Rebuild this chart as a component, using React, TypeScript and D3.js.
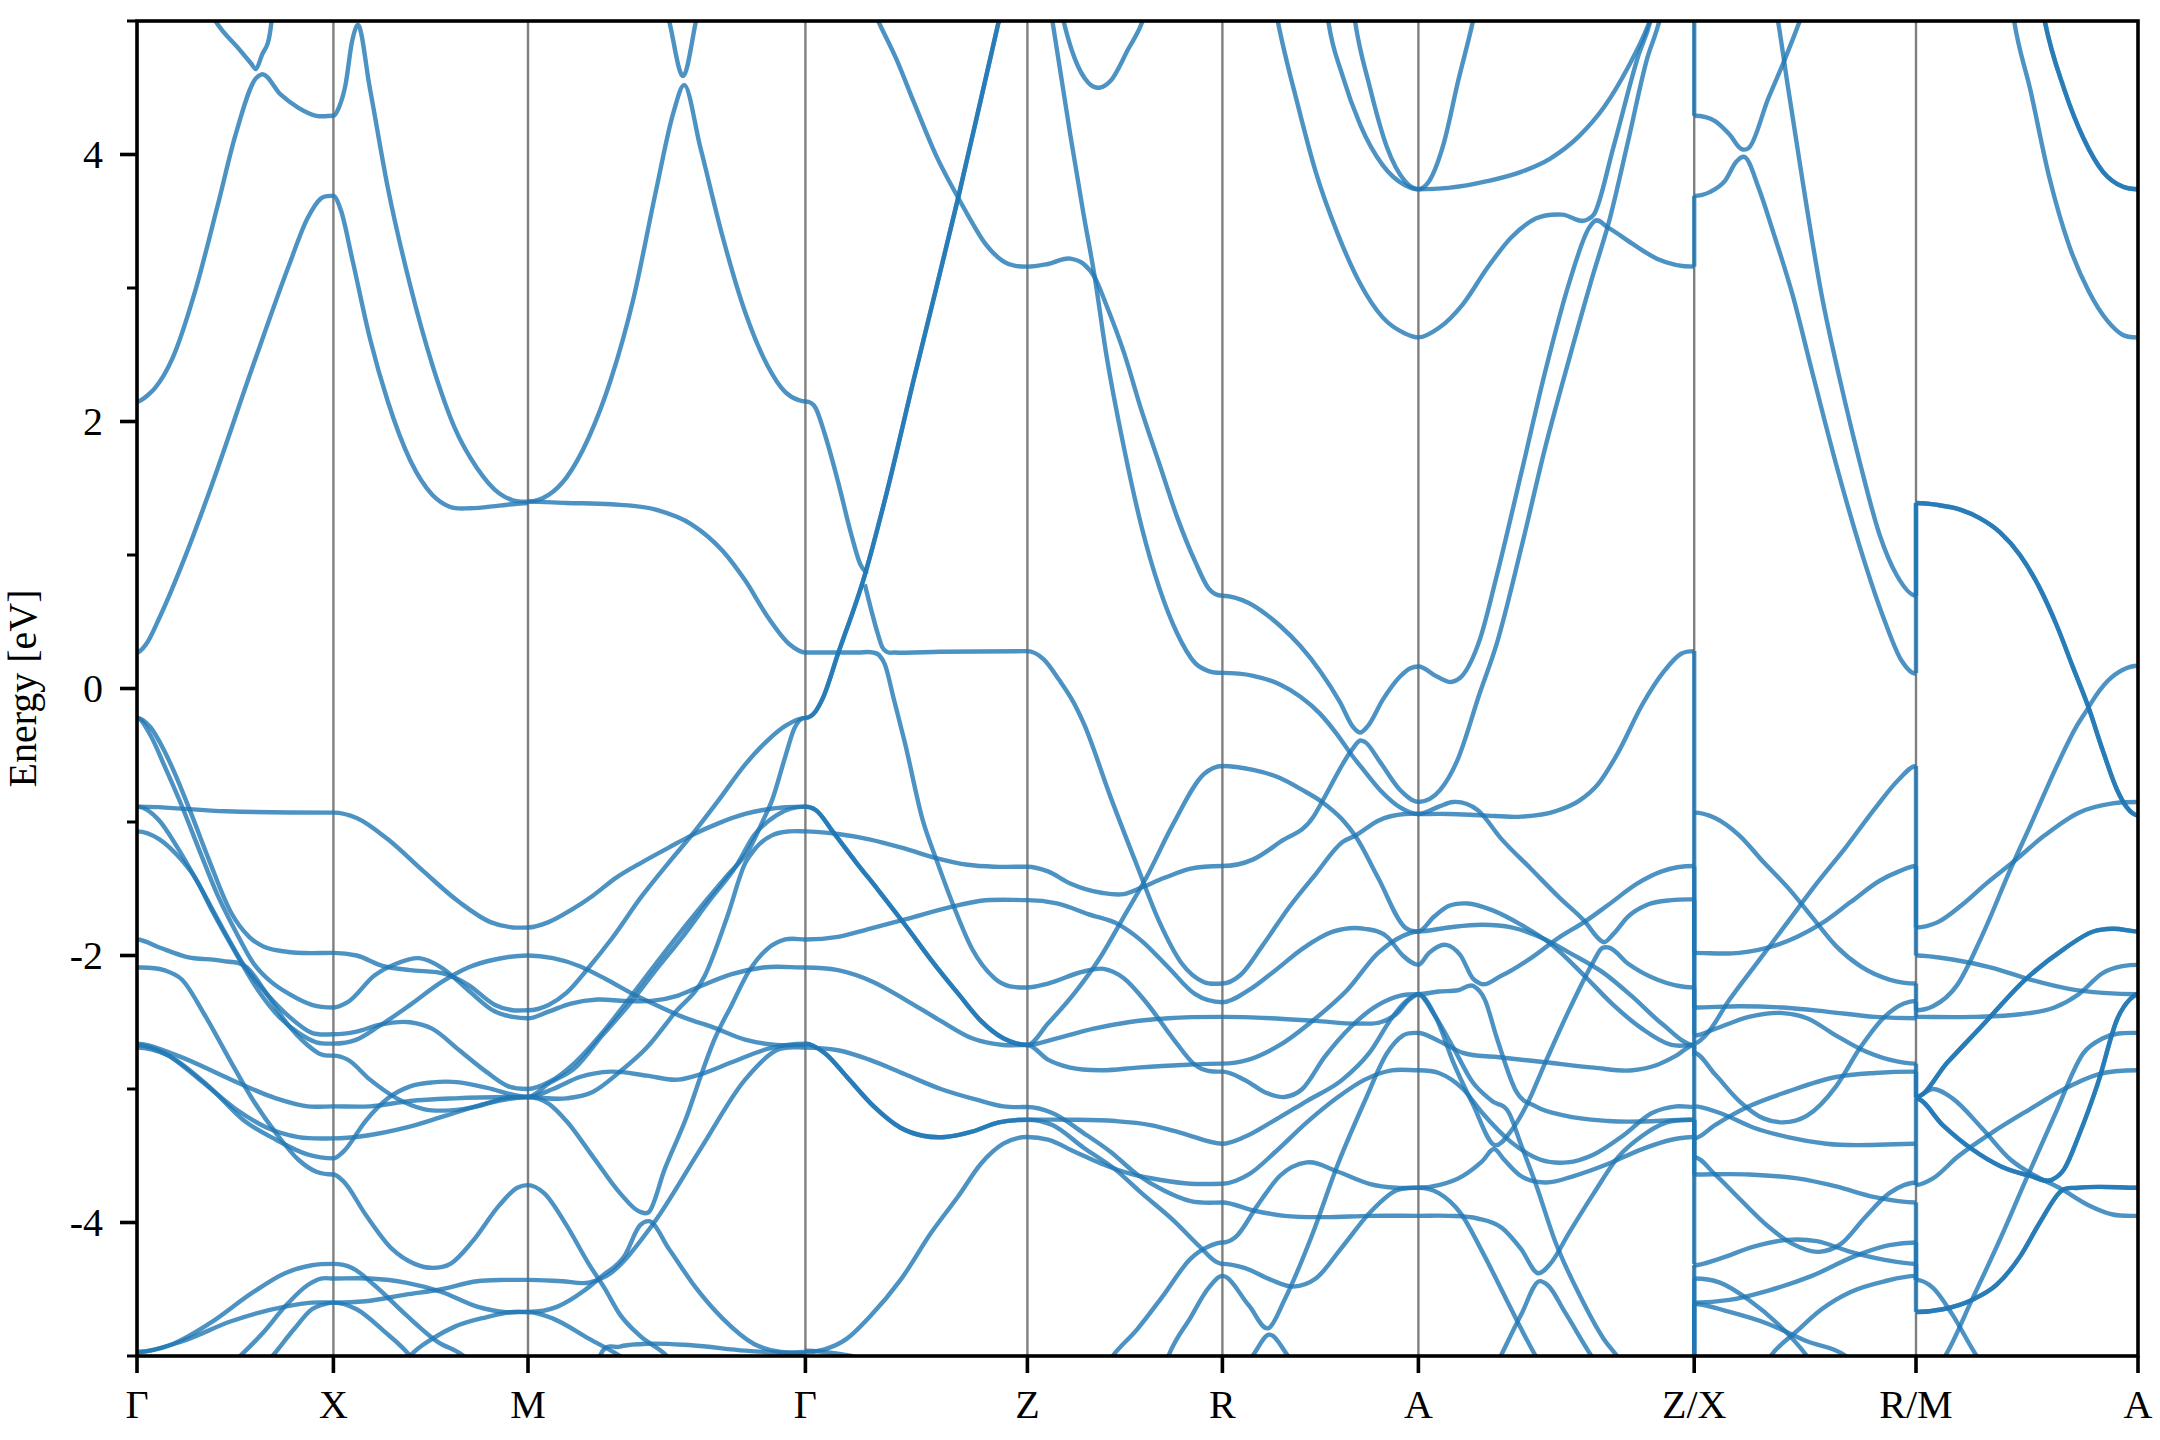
import React from "react";
import * as d3 from "d3";

const kLabels = ["Γ", "X", "M", "Γ", "Z", "R", "A", "Z/X", "R/M", "A"];
const kTicks = [0, 0.982, 1.955, 3.342, 4.452, 5.427, 6.407, 7.786, 8.895, 10.005];
const segmentSpan = [438, 436, 621, 497, 437, 439, 569, 458, 457];
const majorE = [-4, -2, 0, 2, 4];
const minorE = [-5, -3, -1, 1, 3, 5];

// every band is a flat list: position along the segment, energy (eV), ...
const gammaX: number[][] = [
  [0,.27, 20,.33, 50,.53, 110,1.01, 160,1.46, 260,2.43, 340,3.18, 380,3.52, 410,3.67, 438,3.69],
  [0,2.15, 25,2.2, 40,2.25, 80,2.48, 130,2.98, 180,3.62, 220,4.15, 265,4.57, 278,4.6, 320,4.45, 360,4.35, 400,4.29, 438,4.29],
  [150,5.15, 175,5, 230,4.78, 255,4.68, 265,4.64, 278,4.74, 300,5, 310,5.4],
  [0,-.885, 200,-.92, 438,-.93],
  [0,-.22, 30,-.29, 60,-.46, 90,-.68, 120,-.93, 160,-1.28, 210,-1.68, 250,-1.86, 280,-1.93, 330,-1.97, 438,-1.98],
  [0,-.22, 30,-.35, 60,-.57, 100,-.88, 140,-1.22, 180,-1.55, 220,-1.82, 260,-2.06, 300,-2.2, 340,-2.29, 390,-2.37, 438,-2.39],
  [0,-.885, 50,-.99, 90,-1.19, 140,-1.48, 190,-1.79, 240,-2.08, 290,-2.29, 340,-2.46, 390,-2.58, 438,-2.59],
  [0,-1.07, 50,-1.13, 90,-1.25, 130,-1.42, 170,-1.68, 220,-1.98, 270,-2.26, 320,-2.47, 360,-2.58, 400,-2.65, 438,-2.66],
  [0,-1.88, 50,-1.94, 110,-2.01, 190,-2.04, 245,-2.09, 290,-2.29, 330,-2.49, 380,-2.67, 410,-2.74, 438,-2.75],
  [0,-2.09, 60,-2.11, 100,-2.18, 150,-2.44, 210,-2.8, 260,-3.09, 310,-3.33, 360,-3.53, 400,-3.62, 438,-3.64],
  [0,-2.66, 90,-2.75, 210,-2.93, 310,-3.07, 380,-3.13, 438,-3.13],
  [0,-2.67, 60,-2.73, 140,-2.93, 220,-3.15, 290,-3.29, 360,-3.36, 438,-3.37],
  [0,-2.69, 70,-2.75, 160,-2.98, 240,-3.24, 310,-3.38, 380,-3.49, 438,-3.52],
  [0,-4.97, 80,-4.91, 160,-4.76, 260,-4.52, 330,-4.38, 390,-4.32, 438,-4.31],
  [0,-4.97, 100,-4.89, 210,-4.74, 330,-4.63, 390,-4.6, 438,-4.6],
  [180,-5.16, 230,-5, 280,-4.83, 330,-4.63, 380,-4.47, 410,-4.42, 438,-4.42],
  [260,-5.16, 302,-5, 350,-4.8, 390,-4.65, 420,-4.61, 438,-4.6],
];

const xM: number[][] = [
  [0,4.29, 12,4.35, 27,4.52, 42,4.85, 54,4.97, 82,4.49, 122,3.75, 172,3.02, 222,2.42, 272,1.95, 322,1.65, 372,1.46, 402,1.41, 436,1.4],
  [0,3.69, 17,3.58, 42,3.22, 82,2.62, 122,2.15, 172,1.71, 222,1.45, 262,1.36, 307,1.35, 372,1.37, 436,1.39],
  [0,-.93, 52,-.97, 122,-1.13, 202,-1.37, 282,-1.6, 352,-1.75, 402,-1.79, 436,-1.79],
  [0,-2.39, 32,-2.35, 92,-2.15, 142,-2.06, 192,-2.02, 242,-2.09, 302,-2.26, 362,-2.42, 402,-2.46, 436,-2.47],
  [0,-1.98, 52,-2, 112,-2.08, 172,-2.11, 252,-2.14, 302,-2.22, 362,-2.37, 402,-2.41, 436,-2.41],
  [0,-2.59, 52,-2.57, 102,-2.52, 172,-2.5, 222,-2.55, 282,-2.71, 342,-2.87, 392,-2.98, 436,-3],
  [0,-2.66, 52,-2.63, 102,-2.53, 172,-2.37, 242,-2.2, 302,-2.09, 362,-2.03, 436,-2],
  [0,-2.75, 32,-2.78, 82,-2.93, 142,-3.07, 202,-3.15, 262,-3.16, 322,-3.13, 382,-3.07, 436,-3.06],
  [0,-3.13, 82,-3.13, 172,-3.09, 272,-3.07, 436,-3.06],
  [0,-3.37, 72,-3.35, 162,-3.29, 252,-3.2, 342,-3.11, 436,-3.06],
  [0,-3.52, 22,-3.47, 72,-3.24, 122,-3.07, 172,-2.98, 222,-2.95, 282,-2.95, 342,-2.99, 436,-3.06],
  [0,-3.64, 22,-3.69, 72,-3.94, 132,-4.2, 182,-4.31, 222,-4.34, 262,-4.31, 312,-4.14, 372,-3.87, 412,-3.74, 436,-3.72],
  [0,-4.31, 42,-4.34, 92,-4.47, 162,-4.69, 232,-4.89, 292,-5, 322,-5.09],
  [0,-4.42, 82,-4.42, 162,-4.45, 242,-4.52, 322,-4.63, 382,-4.67, 436,-4.67],
  [0,-4.6, 72,-4.59, 162,-4.54, 242,-4.5, 322,-4.44, 382,-4.43, 436,-4.43],
  [0,-4.6, 52,-4.65, 112,-4.81, 172,-5, 192,-5.09],
  [150,-5.1, 172,-5, 222,-4.87, 272,-4.78, 342,-4.71, 402,-4.67, 436,-4.67],
];

const mGamma: number[][] = [
  [0,1.4, 86,1.39, 186,1.38, 286,1.34, 366,1.23, 436,1.03, 486,.81, 536,.54, 586,.33, 621,.27],
  [0,1.4, 46,1.45, 86,1.58, 136,1.88, 186,2.32, 236,2.92, 286,3.72, 326,4.32, 349,4.52, 386,4.05, 436,3.38, 486,2.82, 536,2.42, 576,2.22, 606,2.16, 621,2.15],
  [301,5.2, 316,5, 348,4.59, 376,5, 391,5.25],
  [0,-1.79, 46,-1.75, 96,-1.66, 146,-1.55, 196,-1.42, 256,-1.3, 316,-1.19, 366,-1.1, 426,-1.01, 486,-.94, 526,-.91, 576,-.89, 621,-.885],
  [0,-2, 56,-2.02, 116,-2.08, 176,-2.18, 236,-2.29, 286,-2.37, 346,-2.46, 416,-2.54, 486,-2.63, 556,-2.67, 621,-2.67],
  [0,-2.41, 46,-2.37, 86,-2.28, 136,-2.09, 186,-1.88, 256,-1.55, 316,-1.3, 366,-1.1, 426,-.84, 486,-.57, 536,-.39, 576,-.28, 621,-.22],
  [0,-2.47, 46,-2.42, 96,-2.36, 156,-2.33, 216,-2.34, 276,-2.34, 336,-2.3, 386,-2.23, 456,-2.14, 526,-2.09, 621,-2.09],
  [0,-3, 46,-2.95, 106,-2.8, 166,-2.58, 216,-2.37, 266,-2.15, 326,-1.89, 386,-1.64, 446,-1.4, 496,-1.2, 526,-.99, 546,-.84, 576,-.51, 596,-.3, 621,-.22],
  [0,-3.06, 86,-3.07, 146,-3.02, 206,-2.87, 266,-2.69, 326,-2.44, 396,-2.15, 446,-1.71, 486,-1.31, 511,-1.19, 546,-1.1, 586,-1.07, 621,-1.07],
  [0,-3.06, 56,-3, 116,-2.91, 186,-2.87, 266,-2.9, 336,-2.93, 386,-2.89, 456,-2.8, 536,-2.7, 621,-2.66],
  [0,-3.06, 46,-2.96, 106,-2.84, 166,-2.6, 226,-2.37, 286,-2.11, 346,-1.86, 406,-1.59, 466,-1.33, 506,-1.1, 556,-.95, 621,-.885],
  [0,-3.06, 46,-3.11, 86,-3.24, 146,-3.51, 206,-3.78, 251,-3.92, 271,-3.92, 306,-3.6, 356,-3.2, 386,-2.91, 416,-2.64, 456,-2.37, 496,-2.11, 536,-1.95, 576,-1.88, 621,-1.88],
  [0,-3.72, 36,-3.78, 86,-4.02, 136,-4.31, 171,-4.49, 206,-4.69, 251,-4.85, 311,-5, 336,-5.1],
  [0,-4.43, 76,-4.44, 136,-4.45, 176,-4.4, 276,-4.03, 386,-3.45, 486,-2.93, 556,-2.71, 621,-2.69],
  [0,-4.67, 66,-4.63, 126,-4.51, 166,-4.4, 216,-4.25, 251,-4.02, 271,-3.99, 316,-4.2, 376,-4.49, 436,-4.72, 506,-4.91, 566,-4.97, 621,-4.97],
  [0,-4.67, 56,-4.72, 136,-4.87, 206,-5, 236,-5.07],
  [150,-5.1, 161,-5, 206,-4.93, 256,-4.91, 366,-4.92, 486,-4.96, 621,-4.98],
];

const gzRise = [0,-.22, 23,-.17, 38,-.08, 73,.26, 133,.85, 183,1.48, 243,2.32, 293,3, 343,3.69, 383,4.27, 433,5, 453,5.3];
const gzFall = [0,-.885, 23,-.91, 63,-1.08, 113,-1.3, 163,-1.51, 223,-1.77, 283,-2.04, 343,-2.29, 393,-2.49, 443,-2.62, 497,-2.67];
const gzDip = [0,-2.66, 43,-2.73, 93,-2.91, 153,-3.13, 213,-3.29, 263,-3.35, 313,-3.36, 373,-3.32, 433,-3.25, 497,-3.23];
const gammaZ: number[][] = [
  gzRise, gzRise, gzFall, gzFall, gzDip, gzDip,
  [0,2.15, 23,2.1, 43,1.91, 73,1.55, 103,1.15, 123,.93, 138,.86],
  [133,.78, 148,.58, 163,.4, 172,.31, 182,.275, 200,.27, 300,.275, 497,.28],
  [0,.27, 60,.27, 120,.27, 150,.27, 165,.25, 178,.18, 198,-.08, 223,-.41, 263,-.99, 293,-1.28, 333,-1.64, 373,-1.95, 423,-2.17, 497,-2.24],
  [0,-1.07, 73,-1.09, 143,-1.13, 223,-1.2, 293,-1.27, 363,-1.32, 423,-1.335, 497,-1.335],
  [0,-1.88, 73,-1.86, 143,-1.8, 223,-1.73, 333,-1.63, 393,-1.59, 497,-1.585],
  [0,-2.09, 73,-2.11, 153,-2.2, 223,-2.33, 303,-2.49, 373,-2.62, 443,-2.67, 497,-2.67],
  [0,-2.69, 73,-2.71, 143,-2.78, 223,-2.89, 303,-3, 383,-3.08, 443,-3.13, 497,-3.135],
  [0,-4.97, 43,-4.95, 93,-4.87, 143,-4.71, 213,-4.43, 283,-4.07, 343,-3.8, 393,-3.56, 443,-3.41, 497,-3.36],
  [0,-4.96, 43,-4.97, 103,-5, 143,-5.03],
  [143,5.15, 163,5, 203,4.72, 243,4.39, 293,3.99, 343,3.67, 363,3.55, 403,3.33, 443,3.2, 497,3.16],
];

const zR: number[][] = [
  [0,3.16, 46,3.18, 96,3.22, 126,3.18, 151,3.08, 176,2.88, 216,2.52, 256,2.08, 296,1.68, 336,1.28, 376,.95, 406,.75, 437,.695],
  [46,5.2, 56,5, 96,4.15, 126,3.55, 151,3.08, 176,2.52, 216,1.81, 256,1.21, 296,.75, 336,.41, 376,.19, 406,.13, 437,.117],
  [68,5.2, 81,5, 106,4.72, 136,4.54, 161,4.5, 186,4.55, 226,4.79, 258,5, 276,5.2],
  [0,.28, 36,.22, 71,.065, 106,-.12, 126,-.26, 186,-.81, 246,-1.33, 296,-1.75, 346,-2.06, 396,-2.2, 437,-2.21],
  [0,-1.335, 46,-1.37, 96,-1.46, 166,-1.53, 216,-1.54, 256,-1.49, 306,-1.42, 366,-1.35, 437,-1.33],
  [0,-1.585, 66,-1.61, 136,-1.69, 206,-1.77, 256,-1.89, 316,-2.09, 376,-2.29, 437,-2.35],
  [0,-2.24, 46,-2.21, 126,-2.12, 171,-2.1, 216,-2.17, 266,-2.35, 326,-2.62, 376,-2.82, 437,-2.87],
  [0,-2.67, 46,-2.51, 106,-2.28, 166,-2, 216,-1.71, 266,-1.42, 326,-1.02, 396,-.64, 437,-.58],
  [0,-2.67, 66,-2.62, 146,-2.55, 226,-2.5, 316,-2.47, 437,-2.46],
  [0,-2.67, 46,-2.78, 96,-2.84, 166,-2.86, 246,-2.84, 346,-2.82, 437,-2.81],
  [0,-3.135, 56,-3.18, 126,-3.33, 186,-3.47, 246,-3.64, 306,-3.76, 366,-3.84, 437,-3.85],
  [0,-3.23, 96,-3.23, 196,-3.24, 276,-3.27, 346,-3.33, 437,-3.41],
  [0,-3.23, 56,-3.27, 126,-3.44, 196,-3.6, 256,-3.78, 326,-3.98, 386,-4.18, 421,-4.29, 437,-4.31],
  [0,-3.36, 46,-3.38, 106,-3.47, 166,-3.56, 236,-3.64, 296,-3.68, 366,-3.71, 437,-3.71],
  [170,-5.1, 191,-5, 246,-4.8, 306,-4.54, 366,-4.27, 406,-4.18, 437,-4.15],
  [300,-5.15, 316,-5, 366,-4.71, 406,-4.49, 437,-4.4],
];

const rA: number[][] = [
  [110,5.25, 124,5, 169,4.37, 209,3.87, 259,3.4, 309,3.03, 359,2.78, 409,2.66, 439,2.63],
  [225,5.3, 237,5, 269,4.59, 309,4.22, 359,3.92, 409,3.77, 439,3.74],
  [285,5.3, 297,5, 329,4.52, 369,4.05, 409,3.8, 439,3.74],
  [0,.695, 59,.64, 100,.55, 129,.47, 174,.32, 219,.13, 263,-.1, 293,-.29, 308,-.33, 326,-.28, 360,-.08, 398,.09, 420,.15, 439,.165],
  [0,.117, 69,.095, 129,.03, 174,-.06, 219,-.19, 256,-.34, 290,-.5, 316,-.61, 353,-.76, 398,-.89, 439,-.94],
  [0,-.58, 69,-.61, 129,-.67, 179,-.76, 223,-.85, 268,-.98, 299,-1.11, 349,-1.42, 409,-1.79, 439,-1.82],
  [0,-1.33, 69,-1.28, 129,-1.15, 204,-.96, 223,-.85, 290,-.46, 308,-.39, 319,-.4, 353,-.55, 398,-.76, 439,-.85],
  [0,-2.35, 59,-2.26, 119,-2.11, 179,-1.95, 249,-1.82, 319,-1.8, 369,-1.86, 404,-2, 439,-2.07],
  [0,-2.21, 39,-2.15, 89,-1.93, 149,-1.64, 209,-1.39, 269,-1.15, 299,-1.1, 349,-.99, 409,-.94, 439,-.94],
  [0,-2.46, 109,-2.47, 209,-2.49, 309,-2.51, 354,-2.5, 389,-2.44, 419,-2.33, 439,-2.29],
  [0,-2.81, 59,-2.78, 129,-2.67, 209,-2.47, 279,-2.26, 349,-1.98, 389,-1.88, 439,-1.82],
  [0,-2.87, 49,-2.93, 99,-3.03, 139,-3.06, 179,-3, 229,-2.76, 289,-2.53, 349,-2.37, 399,-2.3, 439,-2.29],
  [0,-3.41, 49,-3.36, 109,-3.25, 189,-3.09, 269,-2.93, 329,-2.73, 379,-2.47, 409,-2.35, 439,-2.29],
  [0,-3.71, 59,-3.64, 119,-3.47, 189,-3.25, 259,-3.06, 319,-2.93, 379,-2.86, 439,-2.86],
  [0,-3.85, 69,-3.91, 139,-3.95, 229,-3.96, 329,-3.95, 439,-3.95],
  [0,-4.15, 29,-4.11, 79,-3.87, 129,-3.65, 189,-3.55, 259,-3.62, 329,-3.71, 389,-3.74, 439,-3.74],
  [0,-4.31, 49,-4.34, 109,-4.43, 159,-4.48, 209,-4.42, 269,-4.18, 329,-3.93, 389,-3.76, 439,-3.74],
  [0,-4.4, 59,-4.62, 104,-4.79, 139,-4.58, 199,-4.11, 259,-3.56, 319,-3.09, 369,-2.73, 404,-2.6, 439,-2.58],
  [39,-5.1, 67,-5, 104,-4.84, 147,-5, 169,-5.1],
];

const aZ: number[][] = [
  [0,3.74, 22,3.8, 52,4.08, 82,4.55, 112,4.99, 127,5.25],
  [0,3.74, 62,3.75, 142,3.8, 212,3.87, 272,3.97, 332,4.14, 382,4.35, 432,4.65, 472,4.95, 492,5.15],
  [0,2.63, 42,2.7, 92,2.88, 142,3.15, 192,3.38, 242,3.52, 297,3.55, 347,3.51, 362,3.55, 402,4.05, 452,4.72, 482,5.05, 495,5.3],
  [0,.165, 38,.09, 69,.05, 89,.09, 127,.37, 162,.85, 212,1.61, 262,2.38, 312,3.05, 352,3.45, 363,3.5, 392,3.45, 442,3.33, 492,3.22, 569,3.16],
  [0,-.85, 45,-.76, 79,-.55, 127,-.03, 162,.34, 212,1.05, 262,1.81, 312,2.48, 362,3.12, 392,3.48, 432,4.09, 472,4.72, 497,5, 512,5.25],
  [0,-.94, 62,-.94, 132,-.95, 212,-.96, 282,-.92, 332,-.84, 372,-.71, 412,-.48, 462,-.12, 507,.13, 542,.26, 569,.28],
  [0,-.94, 42,-.885, 71,-.85, 122,-.91, 172,-1.13, 232,-1.35, 292,-1.57, 342,-1.74, 377,-1.89, 382,-1.9, 402,-1.84, 432,-1.71, 472,-1.62, 522,-1.585, 569,-1.58],
  [0,-1.82, 32,-1.71, 62,-1.63, 102,-1.61, 152,-1.66, 212,-1.77, 272,-1.91, 342,-2.15, 402,-2.37, 462,-2.55, 522,-2.67, 569,-2.67],
  [0,-1.82, 62,-1.79, 132,-1.77, 192,-1.79, 262,-1.88, 312,-1.98, 382,-2.13, 442,-2.31, 502,-2.51, 569,-2.67],
  [0,-2.07, 22,-1.98, 57,-1.92, 87,-2, 112,-2.17, 127,-2.21, 172,-2.15, 232,-2.02, 292,-1.86, 342,-1.75, 392,-1.62, 452,-1.46, 502,-1.37, 569,-1.33],
  [0,-2.29, 42,-2.27, 82,-2.26, 114,-2.23, 137,-2.33, 162,-2.62, 202,-3.02, 242,-3.13, 302,-3.2, 392,-3.24, 569,-3.23],
  [0,-2.29, 37,-2.47, 72,-2.8, 112,-3.11, 157,-3.42, 192,-3.31, 222,-3.13, 262,-2.8, 312,-2.4, 362,-2.04, 377,-1.95, 392,-1.94, 432,-2.06, 492,-2.18, 569,-2.24],
  [0,-2.29, 32,-2.44, 72,-2.69, 112,-2.95, 152,-3.09, 187,-3.18, 212,-3.42, 242,-3.71, 282,-4.14, 332,-4.54, 382,-4.87, 410,-5, 430,-5.1],
  [0,-2.58, 42,-2.64, 92,-2.73, 162,-2.76, 262,-2.8, 362,-2.84, 442,-2.86, 492,-2.82, 532,-2.75, 569,-2.67],
  [0,-2.86, 42,-2.88, 92,-3, 132,-3.18, 192,-3.4, 252,-3.53, 307,-3.55, 362,-3.49, 422,-3.35, 482,-3.18, 532,-3.13, 569,-3.135],
  [0,-3.74, 42,-3.72, 92,-3.65, 132,-3.54, 157,-3.45, 177,-3.53, 207,-3.64, 262,-3.7, 322,-3.65, 392,-3.56, 462,-3.45, 522,-3.38, 569,-3.36],
  [0,-3.74, 42,-3.78, 87,-3.93, 132,-4.22, 182,-4.58, 242,-5, 262,-5.12],
  [0,-3.95, 62,-3.95, 122,-3.97, 172,-4.04, 212,-4.2, 247,-4.38, 272,-4.31, 312,-4.07, 362,-3.78, 412,-3.51, 462,-3.35, 512,-3.25, 569,-3.23],
  [150,-5.15, 170,-5, 212,-4.69, 249,-4.44, 267,-4.47, 302,-4.67, 357,-5, 375,-5.1],
];

const xR: number[][] = [
  [0,4.29, 43,4.25, 73,4.15, 98,4.04, 113,4.05, 153,4.42, 188,4.72, 218,5, 243,5.25],
  [0,3.69, 33,3.72, 63,3.8, 88,3.95, 105,3.98, 133,3.75, 163,3.42, 203,2.95, 243,2.38, 293,1.68, 343,1.05, 393,.51, 428,.21, 458,.11],
  [163,5.2, 173,5, 193,4.52, 223,3.82, 263,2.95, 303,2.28, 343,1.68, 383,1.15, 418,.85, 458,.695],
  [0,-.93, 43,-.97, 93,-1.1, 143,-1.3, 193,-1.49, 243,-1.71, 293,-1.93, 343,-2.08, 403,-2.18, 458,-2.21],
  [0,-1.98, 93,-1.98, 163,-1.93, 213,-1.86, 263,-1.76, 323,-1.6, 383,-1.44, 423,-1.37, 458,-1.33],
  [0,-2.66, 23,-2.6, 73,-2.33, 133,-2.04, 193,-1.75, 253,-1.46, 313,-1.19, 373,-.9, 423,-.68, 458,-.58],
  [0,-2.39, 93,-2.38, 183,-2.39, 273,-2.42, 373,-2.46, 458,-2.47],
  [0,-2.6, 43,-2.55, 113,-2.46, 178,-2.43, 233,-2.47, 293,-2.6, 343,-2.7, 403,-2.78, 458,-2.81],
  [0,-2.73, 43,-2.89, 93,-3.09, 143,-3.22, 183,-3.25, 233,-3.2, 293,-2.98, 343,-2.69, 393,-2.46, 433,-2.36, 458,-2.34],
  [0,-3.13, 53,-3.18, 123,-3.29, 193,-3.36, 273,-3.41, 458,-3.41],
  [0,-3.37, 43,-3.27, 113,-3.13, 193,-3.02, 293,-2.91, 373,-2.88, 458,-2.87],
  [0,-3.51, 43,-3.64, 93,-3.82, 153,-4.03, 203,-4.16, 258,-4.22, 303,-4.16, 353,-3.96, 403,-3.78, 433,-3.72, 458,-3.7],
  [0,-3.64, 113,-3.64, 213,-3.67, 293,-3.73, 373,-3.81, 458,-3.85],
  [0,-4.32, 53,-4.27, 123,-4.18, 193,-4.13, 253,-4.14, 323,-4.22, 393,-4.28, 458,-4.31],
  [0,-4.42, 53,-4.45, 113,-4.58, 173,-4.76, 233,-5, 253,-5.1],
  [0,-4.6, 73,-4.58, 153,-4.51, 243,-4.4, 333,-4.25, 403,-4.17, 458,-4.15],
  [0,-4.61, 73,-4.67, 153,-4.76, 233,-4.89, 313,-5, 343,-5.1],
  [140,-5.1, 158,-5, 213,-4.81, 263,-4.65, 323,-4.52, 393,-4.44, 458,-4.4],
];

const maFall = [0,1.39, 45,1.375, 91,1.34, 132,1.275, 173,1.17, 214,1, 255,.75, 290,.47, 323,.16, 354,-.13, 385,-.47, 414,-.76, 434,-.89, 457,-.95];
const maTop = [250,5.3, 265,5, 305,4.49, 345,4.12, 385,3.87, 425,3.76, 457,3.74];
const maRise = [0,-3.06, 65,-2.8, 135,-2.53, 225,-2.18, 305,-1.95, 365,-1.82, 405,-1.8, 457,-1.82];
const maDip = [0,-3.07, 55,-3.27, 115,-3.45, 175,-3.58, 235,-3.65, 280,-3.68, 305,-3.6, 335,-3.35, 375,-2.95, 415,-2.47, 440,-2.33, 457,-2.29];
const maBottom = [0,-4.67, 55,-4.65, 115,-4.58, 165,-4.47, 215,-4.25, 255,-4, 300,-3.76, 335,-3.74, 457,-3.74];
const mA: number[][] = [
  maFall, maFall, maTop, maTop, maRise, maRise, maDip, maDip, maBottom, maBottom,
  [190,5.3, 202,5, 235,4.49, 275,3.82, 315,3.32, 355,2.98, 395,2.75, 425,2.65, 457,2.63],
  [0,-1.79, 45,-1.75, 95,-1.62, 145,-1.46, 200,-1.3, 265,-1.1, 335,-.93, 405,-.86, 457,-.85],
  [0,-2, 75,-2.03, 155,-2.09, 235,-2.18, 315,-2.25, 385,-2.28, 457,-2.29],
  [0,-2.41, 35,-2.38, 85,-2.22, 135,-1.86, 195,-1.35, 241,-.98, 290,-.58, 331,-.28, 352,-.16, 362,-.1, 393,.05, 426,.14, 457,.17],
  [0,-2.46, 115,-2.46, 215,-2.44, 285,-2.39, 335,-2.29, 385,-2.13, 425,-2.08, 457,-2.07],
  [0,-3.06, 35,-3, 75,-3.07, 135,-3.29, 195,-3.53, 245,-3.65, 295,-3.74, 355,-3.87, 405,-3.94, 457,-3.95],
  [0,-3.72, 35,-3.67, 85,-3.51, 155,-3.33, 235,-3.15, 305,-3, 375,-2.89, 457,-2.86],
  [0,-4.43, 35,-4.49, 75,-4.69, 125,-5, 145,-5.1],
  [40,-5.1, 60,-5, 115,-4.58, 175,-4.11, 225,-3.69, 285,-3.2, 345,-2.73, 385,-2.62, 457,-2.58],
];

const segments = [gammaX, xM, mGamma, gammaZ, zR, rA, aZ, xR, mA];

// energies joined by a band across the two discontinuous labels
const zxJumps = [[5.3,4.29],[3.16,3.69],[.28,-1.98],[-1.335,-2.39],[-1.585,-2.59],[-2.24,-2.66],[-2.67,-2.75],[-2.67,-3.13],[-3.135,-3.37],[-3.23,-3.52],[-3.23,-3.64],[-3.36,-4.31],[-5.3,-4.32],[-5.3,-4.42],[-5.3,-4.6]];
const rmJumps = [[.695,1.39],[.117,1.39],[-.58,-1.79],[-1.33,-2],[-2.21,-2.41],[-2.35,-2.46],[-2.81,-3.06],[-2.87,-3.07],[-3.41,-3.07],[-3.41,-3.72],[-3.71,-3.72],[-3.85,-4.43],[-4.15,-4.43],[-4.31,-4.43],[-4.4,-4.67]];

const W = 2160, H = 1440;
const L = 137, R = 2138, T = 21, B = 1356;
const FONT = "'Liberation Serif', 'Times New Roman', serif";
const BLUE = "#1f77b4";

function pairs(flat: number[]): [number, number][] {
  const out: [number, number][] = [];
  for (let i = 0; i + 1 < flat.length; i += 2) out.push([flat[i], flat[i + 1]]);
  return out;
}

// Cubic Hermite curve factory for d3.line: ends at a high-symmetry point leave flat,
// inner tangents come from the parabola through three neighbouring points.
function bandCurve(flatStart: boolean, flatEnd: boolean) {
  return (context: any) => {
    let xs: number[] = [], ys: number[] = [];
    return {
      areaStart() {}, areaEnd() {},
      lineStart() { xs = []; ys = []; },
      point(x: number, y: number) { xs.push(+x); ys.push(+y); },
      lineEnd() {
        const n = xs.length;
        if (!n) return;
        const d: number[] = [];
        for (let i = 0; i < n - 1; i++) d.push((ys[i + 1] - ys[i]) / (xs[i + 1] - xs[i]));
        const m: number[] = new Array(n).fill(0);
        for (let i = 1; i < n - 1; i++) {
          const h0 = xs[i] - xs[i - 1], h1 = xs[i + 1] - xs[i];
          m[i] = (d[i - 1] * h1 + d[i] * h0) / (h0 + h1);
        }
        m[0] = flatStart ? 0 : d[0];
        m[n - 1] = flatEnd ? 0 : d[n - 2];
        context.moveTo(xs[0], ys[0]);
        for (let i = 0; i < n - 1; i++) {
          const h = (xs[i + 1] - xs[i]) / 3;
          context.bezierCurveTo(xs[i] + h, ys[i] + m[i] * h, xs[i + 1] - h, ys[i + 1] - m[i + 1] * h, xs[i + 1], ys[i + 1]);
        }
      },
    };
  };
}

export default function App() {
  const x = d3.scaleLinear().domain([kTicks[0], kTicks[kTicks.length - 1]]).range([L, R]);
  const y = d3.scaleLinear().domain([-5, 5]).range([B, T]);

  const bandPaths: string[] = [];
  segments.forEach((bands, i) => {
    const a = kTicks[i], b = kTicks[i + 1], span = segmentSpan[i];
    bands.forEach((flat) => {
      const raw = pairs(flat);
      const pts = raw.map(([u, e]) => [a + (u / span) * (b - a), e] as [number, number]);
      const line = d3.line<[number, number]>().x((d) => x(d[0])).y((d) => y(d[1]))
        .curve(bandCurve(raw[0][0] === 0, raw[raw.length - 1][0] === span) as any);
      bandPaths.push(line(pts) as string);
    });
  });

  const jumpLine = d3.line<[number, number]>().x((d) => x(d[0])).y((d) => y(d[1]));
  const addJumps = (list: number[][], k: number) =>
    list.forEach(([e0, e1]) => bandPaths.push(jumpLine([[k, e0], [k, e1]]) as string));
  addJumps(zxJumps, kTicks[7]);
  addJumps(rmJumps, kTicks[8]);

  return (
    <svg width={W} height={H} viewBox={`0 0 ${W} ${H}`} style={{ position: "absolute", left: 0, top: 0, display: "block", background: "#fff" }}>
      <defs>
        <clipPath id="plot"><rect x={L} y={T} width={R - L} height={B - T} /></clipPath>
      </defs>
      <g clipPath="url(#plot)">
        {kTicks.slice(1, -1).map((k, i) => (
          <line key={i} x1={x(k)} x2={x(k)} y1={T} y2={B} stroke="#000" strokeOpacity={0.5} strokeWidth={2.4} />
        ))}
        {bandPaths.map((d, i) => (
          <path key={i} d={d} fill="none" stroke={BLUE} strokeOpacity={0.8} strokeWidth={4.4} strokeLinejoin="round" />
        ))}
      </g>
      <rect x={L} y={T} width={R - L} height={B - T} fill="none" stroke="#000" strokeWidth={3.6} />
      {majorE.map((e) => (
        <g key={e}>
          <line x1={L - 17} x2={L} y1={y(e)} y2={y(e)} stroke="#000" strokeWidth={3.6} />
          <text x={L - 34} y={y(e)} textAnchor="end" dominantBaseline="central" fontFamily={FONT} fontSize={40} fill="#000">{e}</text>
        </g>
      ))}
      {minorE.map((e) => (
        <line key={e} x1={L - 10} x2={L} y1={y(e)} y2={y(e)} stroke="#000" strokeWidth={3} />
      ))}
      {kTicks.map((k, i) => (
        <g key={i}>
          <line x1={x(k)} x2={x(k)} y1={B} y2={B + 17} stroke="#000" strokeWidth={3.6} />
          <text x={x(k)} y={B + 62} textAnchor="middle" fontFamily={FONT} fontSize={40} fill="#000">{kLabels[i]}</text>
        </g>
      ))}
      <text transform={`translate(36 ${y(0)}) rotate(-90)`} textAnchor="middle" fontFamily={FONT} fontSize={40} fill="#000">Energy [eV]</text>
    </svg>
  );
}
